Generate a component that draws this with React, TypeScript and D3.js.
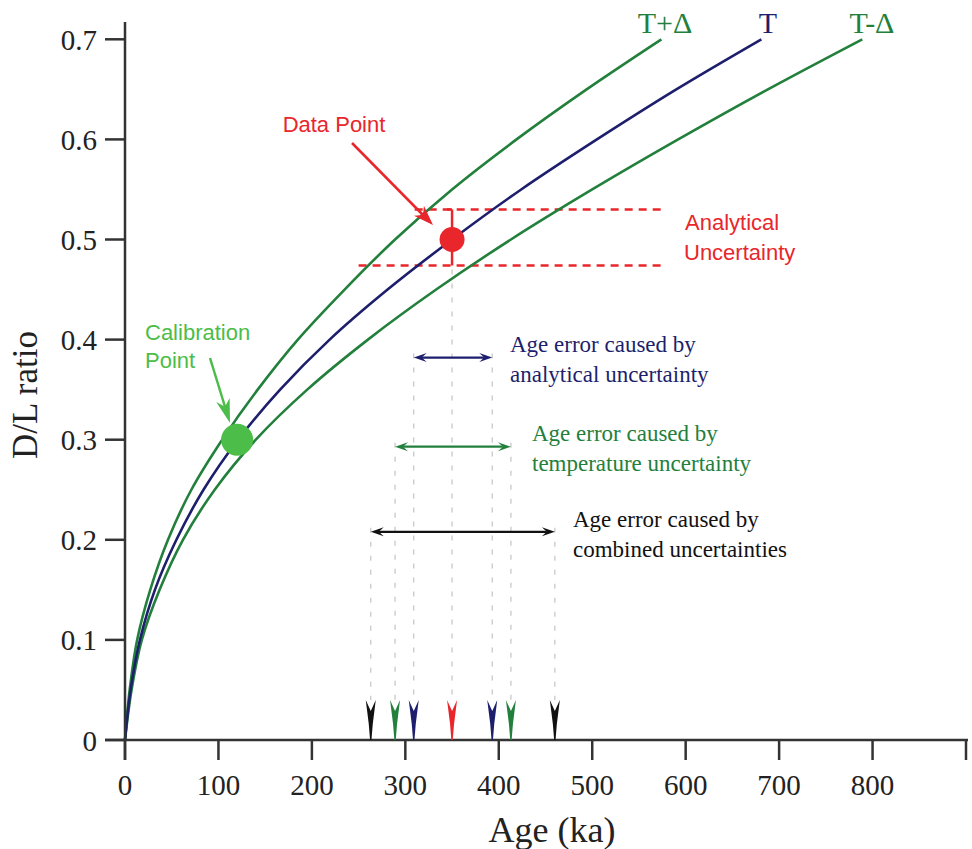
import React from 'react';
import * as d3 from 'd3';

// ---------- data ----------
const xTicks = [0, 100, 200, 300, 400, 500, 600, 700, 800, 900];
const xTickLabels = ['0', '100', '200', '300', '400', '500', '600', '700', '800', ''];
const yTicks = [0, 0.1, 0.2, 0.3, 0.4, 0.5, 0.6, 0.7];
const yTickLabels = ['0', '0.1', '0.2', '0.3', '0.4', '0.5', '0.6', '0.7'];

const dlGrid = [0, 0.05, 0.1, 0.15, 0.2, 0.25, 0.3, 0.35, 0.4, 0.45, 0.5, 0.55, 0.6, 0.65, 0.7];
// curve T+Δ (warmer)
const agePlus = [0, 5, 13, 27, 46, 71, 104, 142, 185, 235, 289, 350, 419, 494, 574];
// curve T
const ageT = [0, 6, 16, 32, 55, 84, 121, 166, 219, 281, 350, 424, 505, 590, 681];
// curve T-Δ (cooler)
const ageMinus = [0, 7, 18, 37, 62, 96, 140, 195, 260, 333, 413, 500, 592, 688, 789];

const dataPointAge = 350;
const dataPointDL = 0.5;
const analyticalLow = 0.474;
const analyticalHigh = 0.53;
const calibAge = 120;
const calibDL = 0.3;

const analyticalAges = [309, 393];
const temperatureAges = [289, 413];
const combinedAges = [263, 460];

const markerAges = [263, 289, 309, 350, 393, 413, 460];
const markerKinds = ['comb', 'temp', 'anal', 'data', 'anal', 'temp', 'comb'];

// ---------- style ----------
const W = 972;
const H = 849;
const GREEN = '#23803c';
const NAVY = '#1d1f6c';
const RED = '#e8262b';
const LGREEN = '#4cbd48';
const BLACK = '#111';
const AXIS = '#333';
const SERIF = '"Liberation Serif", "Times New Roman", serif';
const SANS = '"Liberation Sans", Arial, sans-serif';

const kindColor: Record<string, string> = { comb: BLACK, temp: GREEN, anal: NAVY, data: RED };

function barb(tx: number, ty: number, dx: number, dy: number, L: number, Wd: number, notch: number) {
  const len = Math.hypot(dx, dy);
  const ux = dx / len, uy = dy / len;
  const px = -uy, py = ux;
  const bx = tx - ux * L, by = ty - uy * L;
  const nx = tx - ux * (L - notch), ny = ty - uy * (L - notch);
  return `M${tx},${ty}L${bx + px * Wd},${by + py * Wd}L${nx},${ny}L${bx - px * Wd},${by - py * Wd}Z`;
}

export default function App() {
  const x = d3.scaleLinear().domain([0, 900]).range([125, 966]);
  const y = d3.scaleLinear().domain([0, 0.7]).range([740, 39.3]);

  const line = d3
    .line<[number, number]>()
    .x((d) => x(d[0]))
    .y((d) => y(d[1]))
    .curve(d3.curveCatmullRom.alpha(0.5));

  const curves = [
    { ages: agePlus, color: GREEN },
    { ages: ageMinus, color: GREEN },
    { ages: ageT, color: NAVY },
  ];

  const rows = [
    { ages: analyticalAges, yy: 0.382, color: NAVY, lines: ['Age error caused by', 'analytical uncertainty'], tx: 510, ty: 352 },
    { ages: temperatureAges, yy: 0.293, color: GREEN, lines: ['Age error caused by', 'temperature uncertainty'], tx: 532, ty: 441 },
    { ages: combinedAges, yy: 0.208, color: BLACK, lines: ['Age error caused by', 'combined uncertainties'], tx: 573, ty: 527 },
  ];

  const axisY = y(0);
  const markerTop = axisY - 40;

  return (
    <svg width={W} height={H} style={{ position: 'absolute', left: 0, top: 0, background: '#fff' }}>
      {/* vertical guide dashes */}
      {rows.map((r, i) =>
        r.ages.map((a, j) => (
          <line
            key={`g${i}${j}`}
            x1={x(a)}
            x2={x(a)}
            y1={y(r.yy) - 4}
            y2={markerTop}
            stroke="#c4c4c4"
            strokeWidth={1.2}
            strokeDasharray="5,9"
          />
        ))
      )}
      <line
        x1={x(dataPointAge)}
        x2={x(dataPointAge)}
        y1={y(analyticalLow) + 4}
        y2={markerTop}
        stroke="#c4c4c4"
        strokeWidth={1.2}
        strokeDasharray="5,9"
      />

      {/* analytical uncertainty dashed lines */}
      <line x1={x(310)} x2={x(575)} y1={y(analyticalHigh)} y2={y(analyticalHigh)} stroke={RED} strokeWidth={2.5} strokeDasharray="8,6" />
      <line x1={x(250)} x2={x(575)} y1={y(analyticalLow)} y2={y(analyticalLow)} stroke={RED} strokeWidth={2.5} strokeDasharray="8,6" />

      {/* curves */}
      {curves.map((c, i) => (
        <path
          key={i}
          d={line(c.ages.map((a, k) => [a, dlGrid[k]] as [number, number])) || ''}
          fill="none"
          stroke={c.color}
          strokeWidth={2.6}
        />
      ))}

      {/* axes */}
      <line x1={x(0)} x2={x(0)} y1={22} y2={axisY + 20} stroke={AXIS} strokeWidth={2.5} />
      <line x1={x(0) - 20} x2={968} y1={axisY} y2={axisY} stroke={AXIS} strokeWidth={2.5} />
      {xTicks.map((t, i) => (
        <g key={`xt${i}`}>
          <line x1={x(t)} x2={x(t)} y1={axisY} y2={axisY + 20} stroke={AXIS} strokeWidth={2.5} />
          <text x={x(t)} y={795} textAnchor="middle" fontFamily={SERIF} fontSize={29} fill="#222">
            {xTickLabels[i]}
          </text>
        </g>
      ))}
      {yTicks.map((t, i) => (
        <g key={`yt${i}`}>
          <line x1={x(0) - 20} x2={x(0)} y1={y(t)} y2={y(t)} stroke={AXIS} strokeWidth={2.5} />
          <text x={97} y={y(t) + 10.5} textAnchor="end" fontFamily={SERIF} fontSize={29} fill="#222">
            {yTickLabels[i]}
          </text>
        </g>
      ))}
      <text x={552} y={842} textAnchor="middle" fontFamily={SERIF} fontSize={36} fill="#222">
        Age (ka)
      </text>
      <text transform="translate(37,395) rotate(-90)" textAnchor="middle" fontFamily={SERIF} fontSize={35} fill="#222">
        D/L ratio
      </text>

      {/* curve labels */}
      <text x={665} y={33} textAnchor="middle" fontFamily={SERIF} fontSize={30} fill={GREEN}>T+Δ</text>
      <text x={768} y={33} textAnchor="middle" fontFamily={SERIF} fontSize={30} fill={NAVY}>T</text>
      <text x={872} y={33} textAnchor="middle" fontFamily={SERIF} fontSize={30} fill={GREEN}>T-Δ</text>

      {/* error bar and data point */}
      <line x1={x(dataPointAge)} x2={x(dataPointAge)} y1={y(analyticalHigh)} y2={y(analyticalLow)} stroke={RED} strokeWidth={2.5} />
      <line x1={x(dataPointAge) - 5} x2={x(dataPointAge)} y1={y(analyticalHigh)} y2={y(analyticalHigh)} stroke={RED} strokeWidth={2.5} />
      <circle cx={x(dataPointAge)} cy={y(dataPointDL)} r={12.5} fill={RED} />
      <circle cx={x(calibAge)} cy={y(calibDL)} r={16} fill={LGREEN} />

      {/* Data Point arrow */}
      <line x1={352} y1={143} x2={424} y2={216} stroke={RED} strokeWidth={2.5} />
      <path d={barb(433, 225, 81, 82, 20, 7, 6)} fill={RED} />
      <text x={334} y={132} textAnchor="middle" fontFamily={SANS} fontSize={22} fill={RED}>Data Point</text>

      {/* Calibration arrow */}
      <line x1={210} y1={358} x2={226} y2={410} stroke={LGREEN} strokeWidth={2.5} />
      <path d={barb(230, 423, 20, 65, 24, 7, 7)} fill={LGREEN} />
      <text x={145} y={340} fontFamily={SANS} fontSize={22} fill={LGREEN}>Calibration</text>
      <text x={145} y={368} fontFamily={SANS} fontSize={22} fill={LGREEN}>Point</text>

      {/* Analytical uncertainty label */}
      <text x={685} y={230} fontFamily={SANS} fontSize={22} fill={RED}>Analytical</text>
      <text x={684} y={260} fontFamily={SANS} fontSize={22} fill={RED}>Uncertainty</text>

      {/* double arrows and their labels */}
      {rows.map((r, i) => {
        const x1 = x(r.ages[0]);
        const x2 = x(r.ages[1]);
        const yy = y(r.yy);
        return (
          <g key={`row${i}`}>
            <line x1={x1 + 8} x2={x2 - 8} y1={yy} y2={yy} stroke={r.color} strokeWidth={2.2} />
            <path d={barb(x1, yy, -1, 0, 13, 4.5, 5)} fill={r.color} />
            <path d={barb(x2, yy, 1, 0, 13, 4.5, 5)} fill={r.color} />
            <text x={r.tx} y={r.ty} fontFamily={SERIF} fontSize={23} fill={r.color}>{r.lines[0]}</text>
            <text x={r.tx} y={r.ty + 30} fontFamily={SERIF} fontSize={23} fill={r.color}>{r.lines[1]}</text>
          </g>
        );
      })}

      {/* bottom markers */}
      {markerAges.map((a, i) => {
        const cx = x(a);
        const top = markerTop;
        const d = `M${cx - 5},${top}L${cx},${top + 11}L${cx + 5},${top}L${cx + 2},${top + 24}L${cx + 0.7},${axisY}L${cx - 0.7},${axisY}L${cx - 2},${top + 24}Z`;
        return <path key={`m${i}`} d={d} fill={kindColor[markerKinds[i]]} />;
      })}
    </svg>
  );
}
